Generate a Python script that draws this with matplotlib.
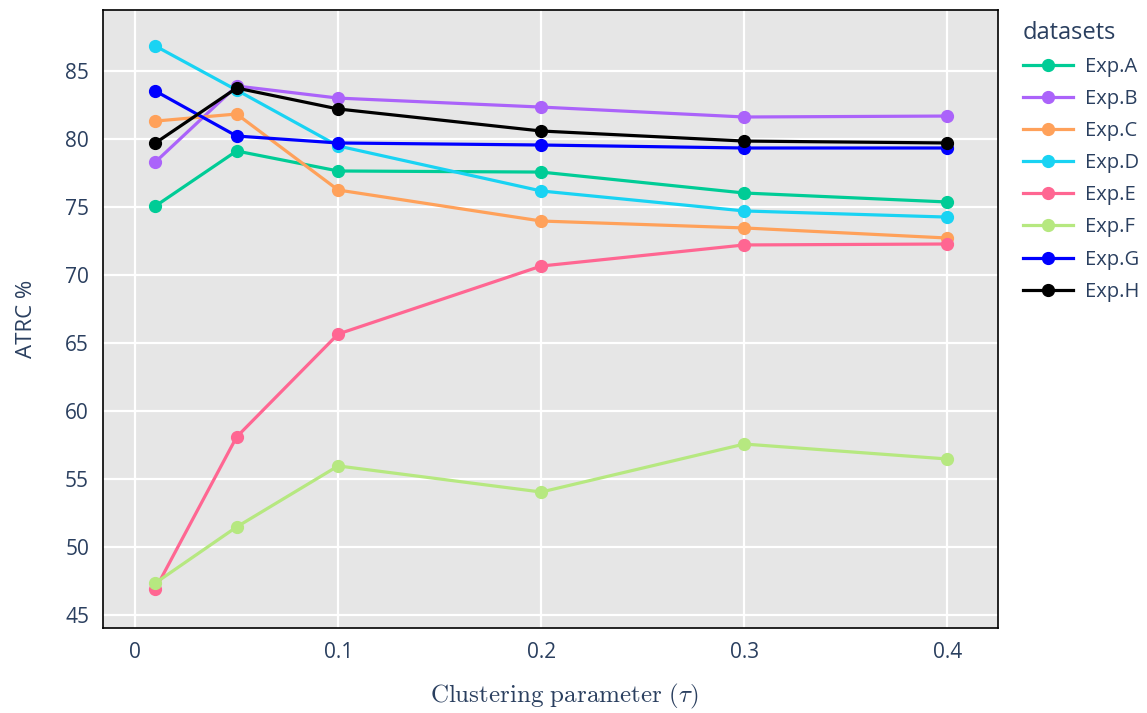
import numpy as np
import matplotlib.pyplot as plt

# ---------------------------------------------------------------------------
# Data
# ---------------------------------------------------------------------------
tau = [0.01, 0.05, 0.1, 0.2, 0.3, 0.4]

exp_a = [75.07, 79.12, 77.65, 77.57, 76.03, 75.37]
exp_b = [78.31, 83.90, 83.01, 82.35, 81.62, 81.69]
exp_c = [81.32, 81.84, 76.25, 73.97, 73.46, 72.72]
exp_d = [86.84, 83.60, 79.49, 76.18, 74.71, 74.26]
exp_e = [46.90, 58.09, 65.66, 70.66, 72.21, 72.28]
exp_f = [47.35, 51.47, 55.96, 54.04, 57.57, 56.47]
exp_g = [83.53, 80.22, 79.71, 79.56, 79.34, 79.34]
exp_h = [79.71, 83.75, 82.21, 80.59, 79.85, 79.71]

names = ['Exp.A', 'Exp.B', 'Exp.C', 'Exp.D', 'Exp.E', 'Exp.F', 'Exp.G', 'Exp.H']
series = [exp_a, exp_b, exp_c, exp_d, exp_e, exp_f, exp_g, exp_h]
colors = ['#00CC96', '#AB63FA', '#FFA15A', '#19D3F3',
          '#FF6692', '#B6E880', '#0000FF', '#000000']

xticks = [0, 0.1, 0.2, 0.3, 0.4]
xticklabels = ['0', '0.1', '0.2', '0.3', '0.4']
yticks = [45, 50, 55, 60, 65, 70, 75, 80, 85]

# ---------------------------------------------------------------------------
# Styling
# ---------------------------------------------------------------------------
text_color = '#2a3f5f'
plt.rcParams['font.family'] = ['Open Sans', 'DejaVu Sans']
plt.rcParams['mathtext.fontset'] = 'cm'

fig = plt.figure(figsize=(11.47, 7.13), dpi=100)
ax = fig.add_axes([0.0898, 0.1192, 0.7804, 0.8668])
ax.set_facecolor('#E6E6E6')

for name, ys, c in zip(names, series, colors):
    ax.plot(tau, ys, '-o', color=c, lw=2.3, ms=8.5, label=name, zorder=3)

ax.set_xlim(-0.0158, 0.425)
ax.set_ylim(44.04, 89.49)
ax.set_xticks(xticks)
ax.set_xticklabels(xticklabels)
ax.set_yticks(yticks)

ax.grid(True, color='white', linewidth=1.6, zorder=0)
ax.set_axisbelow(True)
ax.tick_params(axis='both', length=0, pad=10, labelsize=15, labelcolor=text_color)

for side in ['left', 'right', 'top', 'bottom']:
    ax.spines[side].set_color('black')
    ax.spines[side].set_linewidth(1.2)

ax.set_ylabel('ATRC %', fontsize=16, color=text_color, labelpad=20)
ax.set_xlabel(r'$\mathrm{Clustering\ parameter\ }(\tau)$', fontsize=18,
              color=text_color)
ax.xaxis.set_label_coords(0.515, -0.088)

leg = ax.legend(loc='upper left', bbox_to_anchor=(1.012, 1.005), frameon=False,
                title='datasets', fontsize=14.5, title_fontsize=17,
                handlelength=2.5, handletextpad=0.6, labelspacing=0.6,
                borderaxespad=0.3)
leg._legend_box.align = 'left'
leg.get_title().set_color(text_color)
for t in leg.get_texts():
    t.set_color(text_color)

fig.savefig('out.png', dpi=100)
